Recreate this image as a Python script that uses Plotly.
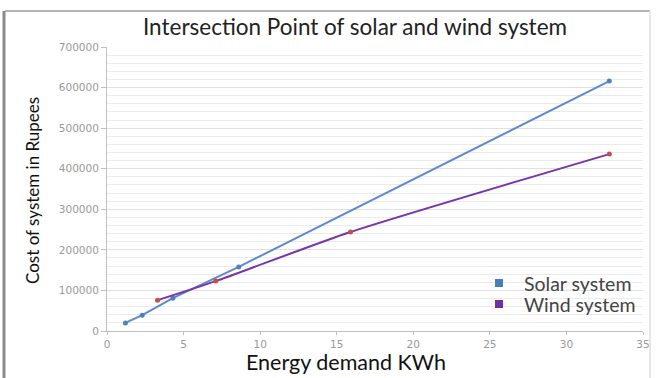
import plotly.graph_objects as go

title = "Intersection Point of solar and wind system"
x_title = "Energy demand KWh"
y_title = "Cost of system in Rupees"
legend_names = ["Solar system", "Wind system"]

solar_x = [1.2, 2.3, 4.3, 8.6, 32.8]
solar_y = [20000, 39000, 81000, 158000, 616000]
wind_x = [3.3, 7.1, 15.9, 32.8]
wind_y = [76000, 123000, 244000, 436000]

x_ticks = [0, 5, 10, 15, 20, 25, 30, 35]
y_ticks = [0, 100000, 200000, 300000, 400000, 500000, 600000, 700000]

solar_color = "#5B8BC9"
wind_color = "#7A35A8"
wind_marker = "#C0504D"
legend_colors = ["#4A7EBB", "#7030A0"]

fig = go.Figure()
fig.add_trace(go.Scatter(x=solar_x, y=solar_y, mode="lines+markers", name=legend_names[0],
                         line=dict(color=solar_color, width=2),
                         marker=dict(color="#4F81BD", size=5),
                         showlegend=False))
fig.add_trace(go.Scatter(x=wind_x, y=wind_y, mode="lines+markers", name=legend_names[1],
                         line=dict(color=wind_color, width=2, shape="spline", smoothing=0.6),
                         marker=dict(color=wind_marker, size=5),
                         showlegend=False))

L, R, T, B = 107, 19, 47, 47
W, H = 662, 378
pw, ph = W - L - R, H - T - B

def px(xp):
    return (xp - L) / pw

def py(yp):
    return (H - B - yp) / ph

tick_font = dict(size=10.5, color="#999999", family="DejaVu Sans, sans-serif")

annotations = [
    dict(text=x_title, xref="paper", yref="paper", x=px(346), y=py(362),
         xanchor="center", yanchor="middle", showarrow=False,
         font=dict(size=21.5, color="#111", family="Lato, Open Sans, sans-serif")),
    dict(text=y_title, xref="paper", yref="paper", x=px(32), y=py(191),
         xanchor="center", yanchor="middle", showarrow=False, textangle=-90,
         font=dict(size=17, color="#111", family="Lato, Open Sans, sans-serif")),
]
shapes = [
    dict(type="line", xref="paper", yref="paper",
         x0=px(5), x1=px(650), y0=py(11), y1=py(11),
         line=dict(color="#9A9A9A", width=1.5)),
    dict(type="line", xref="paper", yref="paper",
         x0=px(650), x1=px(650), y0=py(378), y1=py(11),
         line=dict(color="#E6E6E6", width=2)),
    dict(type="line", xref="paper", yref="paper",
         x0=px(4), x1=px(4), y0=py(378), y1=py(11),
         line=dict(color="#8A8A8A", width=3)),
    # legend background
    dict(type="rect", xref="paper", yref="paper", layer="between",
         x0=px(490), x1=px(642), y0=py(316), y1=py(272),
         fillcolor="white", line=dict(width=0)),
]
legend_y = [283, 304]
for name, color, yy in zip(legend_names, legend_colors, legend_y):
    shapes.append(dict(type="rect", xref="paper", yref="paper",
                       x0=px(495), x1=px(503), y0=py(yy + 4), y1=py(yy - 4),
                       fillcolor=color, line=dict(width=0)))
    annotations.append(dict(text=name, xref="paper", yref="paper", x=px(522), y=py(yy),
                            xanchor="left", yanchor="middle", showarrow=False,
                            font=dict(size=19.5, color="#444", family="Lato, Open Sans, sans-serif")))

fig.update_layout(
    width=W, height=H,
    margin=dict(l=L, r=R, t=T, b=B, autoexpand=False),
    paper_bgcolor="white", plot_bgcolor="white",
    font=dict(family="Lato, Open Sans, sans-serif", color="#333"),
    showlegend=False,
    title=dict(text=title, xref="container", x=355 / W, xanchor="center",
               yref="container", y=1 - 27 / H, yanchor="middle",
               font=dict(size=22.5, color="#222", family="Lato, Open Sans, sans-serif")),
    xaxis=dict(range=[0, 35], tickvals=x_ticks, showgrid=False, zeroline=False,
               showline=True, linecolor="#BFBFBF", linewidth=1, automargin=False,
               ticks="outside", ticklen=3, tickcolor="#BFBFBF",
               tickfont=tick_font),
    yaxis=dict(range=[0, 700000], tickvals=y_ticks, showgrid=True, gridcolor="#E0E0E0",
               minor=dict(dtick=20000, showgrid=True, gridcolor="#EBEBEB"),
               zeroline=False, showline=True, linecolor="#BFBFBF", linewidth=1,
               automargin=False,
               ticks="outside", ticklen=5, tickcolor="#BFBFBF",
               tickformat="d", tickfont=tick_font),
    annotations=annotations,
    shapes=shapes,
)

fig.write_html("out.html", config={"displayModeBar": False},
               post_script="document.body.style.margin='0';document.body.style.overflow='hidden';")
